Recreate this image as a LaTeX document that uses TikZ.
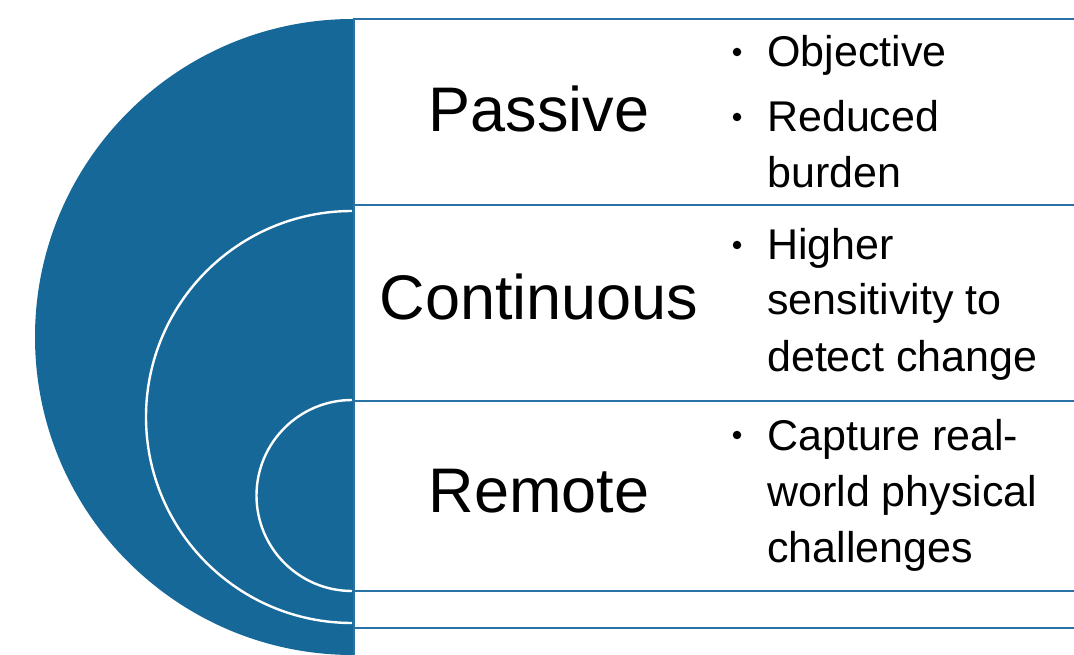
\documentclass[tikz,border=0pt]{standalone}
\usepackage{fontspec}
\setmainfont{Liberation Sans}
\definecolor{ringblue}{RGB}{22,104,152}
\definecolor{rowline}{RGB}{40,114,166}
\begin{document}
\begin{tikzpicture}[x=1pt,y=1pt,
  title/.style={font=\fontsize{63}{70}\selectfont, anchor=base, inner sep=0pt},
  item/.style={font=\fontsize{43}{50}\selectfont, anchor=base west, inner sep=0pt},
  dot/.style={circle, fill=black, inner sep=0pt, minimum size=8.5pt},
  rowbox/.style={draw=rowline, line width=2.4pt},
  ring/.style={draw=white, line width=2.4pt}]
\useasboundingbox (0,0) rectangle (1074,654);
\begin{scope}
  \clip (0,0) rectangle (1074,654);
  % nested half discs
  \fill[ringblue] (353,635) arc[start angle=90,end angle=270,radius=318] -- cycle;
  \draw[ring] (352,443) arc[start angle=90,end angle=270,radius=206];
  \draw[ring] (352,254) arc[start angle=90,end angle=270,radius=95.5];
  % rows on the right
  \draw[rowbox] (354,449) rectangle (1090,635);
  \draw[rowbox] (354,253) rectangle (1090,449);
  \draw[rowbox] (354,63) rectangle (1090,253);
  \draw[rowbox] (354,26) rectangle (1090,63);
  \draw[rowbox] (354,-20) rectangle (1090,26);
\end{scope}

% row titles
\node[title] (passive) at (539,522) {Passive};
\node[title] (continuous) at (539,334) {Continuous};
\node[title] (remote) at (539,142) {Remote};

% bullet points
\node[dot] (b1) at (737,602) {};
\node[item] (t1) at (767,587) {Objective};
\node[dot] (b2) at (737,537) {};
\node[item] (t2a) at (767,522) {Reduced};
\node[item] (t2b) at (767,466) {burden};

\node[dot] (b3) at (737,409) {};
\node[item] (t3a) at (767,394) {Higher};
\node[item] (t3b) at (767,339) {sensitivity to};
\node[item] (t3c) at (767,282) {detect change};

\node[dot] (b4) at (737,219) {};
\node[item] (t4a) at (767,204) {Capture real-};
\node[item] (t4b) at (767,147) {world physical};
\node[item] (t4c) at (767,92) {challenges};
\end{tikzpicture}
\end{document}
